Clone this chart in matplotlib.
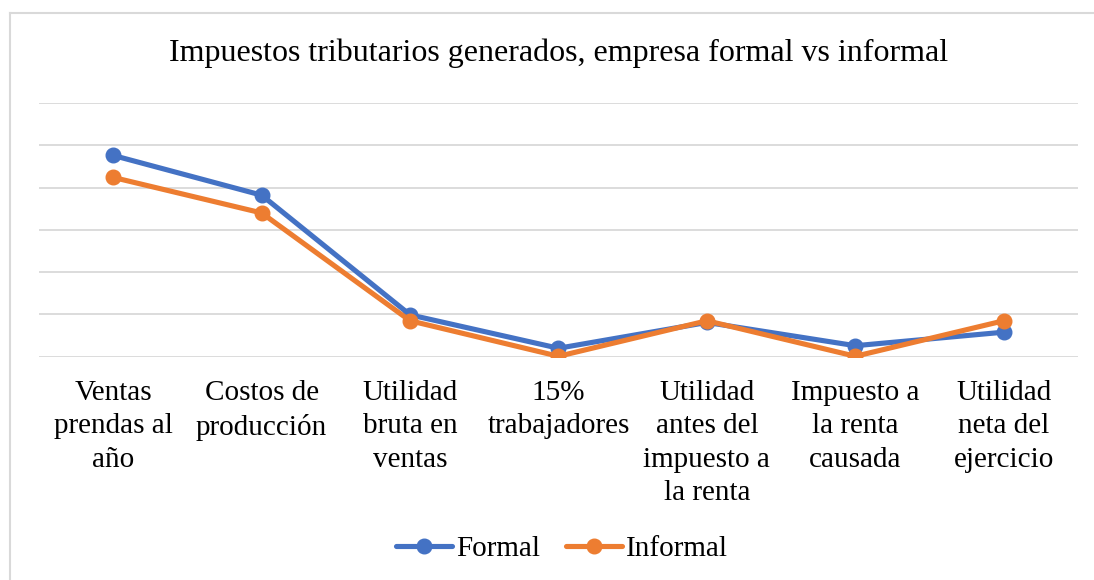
import matplotlib
matplotlib.use("Agg")
import matplotlib.pyplot as plt
from matplotlib.lines import Line2D

categories = [
    "Ventas\nprendas al\naño",
    "Costos de\nproducción",
    "Utilidad\nbruta en\nventas",
    "15%\ntrabajadores",
    "Utilidad\nantes del\nimpuesto a\nla renta",
    "Impuesto a\nla renta\ncausada",
    "Utilidad\nneta del\nejercicio",
]
formal = [4.76, 3.82, 0.99, 0.20, 0.81, 0.26, 0.58]
informal = [4.24, 3.40, 0.85, 0.01, 0.85, 0.01, 0.85]
title = "Impuestos tributarios generados, empresa formal vs informal"

plt.rcParams['font.family'] = ['Liberation Serif', 'DejaVu Serif']

W, H = 1094, 580
fig = plt.figure(figsize=(W / 100, H / 100), dpi=100)
border = '#d9d9d9'
fig.lines.append(Line2D([10 / W, 10 / W], [0, 1 - 13 / H], transform=fig.transFigure,
                        color=border, lw=1.5))
fig.lines.append(Line2D([10 / W, 1], [1 - 13 / H, 1 - 13 / H], transform=fig.transFigure,
                        color=border, lw=1.5))

left, right, top, bottom = 39, 1078, 103, 356.7
ax = fig.add_axes([left / W, 1 - bottom / H, (right - left) / W, (bottom - top) / H])
x = list(range(len(categories)))
blue, orange = '#4472C4', '#ED7D31'
ax.plot(x, formal, color=blue, lw=3.7, marker='o', ms=10.5, label='Formal',
        solid_capstyle='round', zorder=3)
ax.plot(x, informal, color=orange, lw=3.7, marker='o', ms=10.5, label='Informal',
        solid_capstyle='round', zorder=4)
ax.set_xlim(-0.5, len(categories) - 0.5)
ax.set_ylim(0, 6)
ax.set_yticks(range(0, 7))
ax.set_yticklabels([])
ax.grid(axis='y', color='#d9d9d9', lw=1.3)
ax.set_axisbelow(True)
for s in ax.spines.values():
    s.set_visible(False)
ax.set_xticks(x)
ax.set_xticklabels(categories, fontsize=21, linespacing=1.38)
ax.tick_params(axis='both', length=0)
ax.tick_params(axis='x', pad=16.5)

fig.text(558.5 / W, 1 - 53 / H, title, ha='center', va='center', fontsize=23)

leg = fig.legend(loc='center', bbox_to_anchor=(0.514, 1 - 549 / H), ncol=2,
                 frameon=False, fontsize=21, handlelength=1.9, handletextpad=0.15,
                 columnspacing=0.9)

fig.savefig('out.png', dpi=100, facecolor='white')
